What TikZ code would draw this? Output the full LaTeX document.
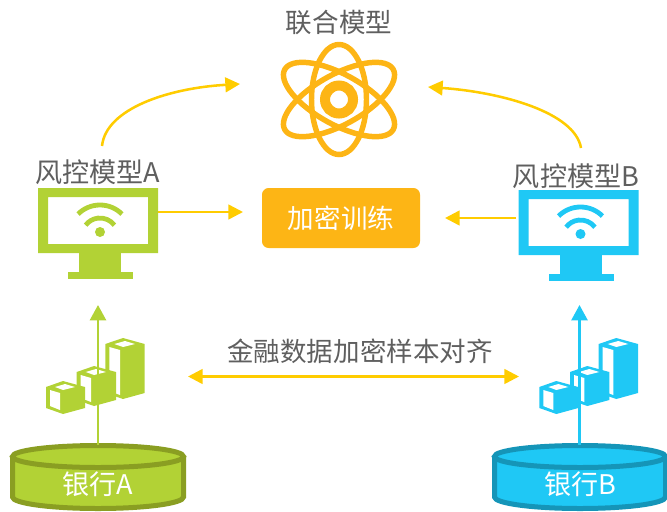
\documentclass[tikz,border=0pt]{standalone}
\usepackage{fontspec}
\usepackage{xcolor}
\usetikzlibrary{arrows.meta}
\setmainfont{Noto Sans CJK SC}
\definecolor{leaf}{HTML}{B2D235}
\definecolor{leafdark}{HTML}{8A9E22}
\definecolor{sky}{HTML}{1FC8F5}
\definecolor{skydark}{HTML}{1595B8}
\definecolor{amber}{HTML}{FDB515}
\definecolor{gold}{HTML}{FFCC00}
\definecolor{inkgray}{HTML}{5F5F5F}
\tikzset{
  label text/.style={text=inkgray,font=\fontsize{19.9}{24}\selectfont,inner sep=0pt},
  white text/.style={text=white,font=\fontsize{19.9}{24}\selectfont,inner sep=0pt},
  gold arrow/.style={draw=gold,line width=1.9pt,-{Triangle[length=11pt,width=11pt]}},
}
% monitor with wifi sign, drawn at the place of bank A
\newcommand{\monitoricon}[1]{
\fill [#1,even odd rule] (38,188) rectangle (158,253) (48,197) rectangle (148,244);
\fill [#1] (79,253) rectangle (121,272);
\fill [#1] (68,272) rectangle (133,279);
\fill [#1] (100,232) circle (5);
\draw [#1,line width=3.6pt] (100,236) ++(-45:31) arc [start angle=-45,end angle=-135,radius=31];
\draw [#1,line width=3.6pt] (100,236) ++(-37:18) arc [start angle=-37,end angle=-143,radius=18];
}
% one block: colour, left, apex, right, top, bottom
\newcommand{\blockicon}[6]{
\fill [#1] (#2,#5+6) -- (#3,#5) -- (#4,#5+6) -- (#4,#6-6) -- (#3,#6) -- (#2,#6-6) -- cycle;
\fill [white] (#2+4,#5+9) -- (#3-3,#5+12) -- (#3-3,#6-4) -- (#2+4,#6-8) -- cycle;
\fill [white] (#2+9,#5+6) -- (#3+2,#5+3) -- (#3+12,#5+6) -- (#3,#5+9) -- cycle;
}
\newcommand{\barsicon}[1]{
\blockicon{#1}{105.3}{123}{144.7}{338}{399}
\blockicon{#1}{76.7}{94}{116}{366}{406}
\blockicon{#1}{46}{63}{85}{381}{414}
}
% bank cylinder: fill, border
\newcommand{\bankicon}[2]{
\filldraw [fill=#1,draw=#2,line width=3.75pt] (12.5,456.5) -- (12.5,497) arc [start angle=180,end angle=0,x radius=85.5,y radius=11.5] -- (183.5,456.5);
\filldraw [fill=#1,draw=#2,line width=3.75pt] (98,456.5) ellipse [x radius=85.5,y radius=11];
}
\begin{document}
\begin{tikzpicture}[x=0.75pt,y=-0.75pt]
\useasboundingbox (0,0) rectangle (667,511);
% atom
\draw [amber,line width=4.1pt] (339,99.5) ellipse [x radius=27.5,y radius=55];
\draw [amber,line width=4.1pt,rotate around={29:(339,99.5)}] (339,99.5) ellipse [x radius=62,y radius=25];
\draw [amber,line width=4.1pt,rotate around={-29:(339,99.5)}] (339,99.5) ellipse [x radius=62,y radius=25];
\draw [amber,line width=7.5pt] (339,99.5) circle (14);
% icons
\monitoricon{leaf}
\begin{scope}[shift={(480.5,2)}]
\monitoricon{sky}
\end{scope}
\barsicon{leaf}
\begin{scope}[shift={(493.3,0)}]
\barsicon{sky}
\end{scope}
\bankicon{leaf}{leafdark}
\begin{scope}[shift={(482,0)}]
\bankicon{sky}{skydark}
\end{scope}
% nodes
\node [label text] (jointLabel) at (339,22) {联合模型};
\node [label text,font=\fontsize{20.3}{24}\selectfont] (modelA) at (97.5,172) {风控模型A};
\node [label text,font=\fontsize{20.3}{24}\selectfont] (modelB) at (576,176) {风控模型B};
\node [label text] (alignLabel) at (360,351) {金融数据加密样本对齐};
\node [white text,fill=amber,rounded corners=5pt,minimum width=118.5pt,minimum height=45pt] (train) at (341,218) {加密训练};
\node [white text,font=\fontsize{20.3}{24}\selectfont] (bankA) at (97.5,484) {银行A};
\node [white text,font=\fontsize{20.3}{24}\selectfont] (bankB) at (580,484) {银行B};
\coordinate (monitorAtop) at (102,146);
\coordinate (monitorBtop) at (581,148);
\coordinate (atomLeft) at (240,84);
\coordinate (atomRight) at (428,87);
\coordinate (monitorAside) at (158,212);
\coordinate (trainLeft) at (243,212);
\coordinate (monitorBside) at (516,218);
\coordinate (trainRight) at (445,218);
\coordinate (alignLeft) at (188,376.5);
\coordinate (alignRight) at (519,376.5);
\coordinate (cylA) at (98,445);
\coordinate (cylB) at (579.5,445);
\coordinate (upA) at (98,305);
\coordinate (upB) at (579.5,305);
% arrows
\draw [gold arrow] (monitorAtop) .. controls (106,108) and (170,88) .. (atomLeft);
\draw [gold arrow] (monitorBtop) .. controls (575,112) and (500,92) .. (atomRight);
\draw [gold arrow] (monitorAside) -- (trainLeft);
\draw [gold arrow] (monitorBside) -- (trainRight);
\draw [gold arrow,{Triangle[length=11pt,width=11pt]}-{Triangle[length=11pt,width=11pt]}] (alignLeft) -- (alignRight);
\draw [leaf,line width=1.9pt,-{Triangle[length=11.5pt,width=12pt]}] (cylA) -- (upA);
\draw [sky,line width=1.9pt,-{Triangle[length=11.5pt,width=12pt]}] (cylB) -- (upB);
\end{tikzpicture}
\end{document}
